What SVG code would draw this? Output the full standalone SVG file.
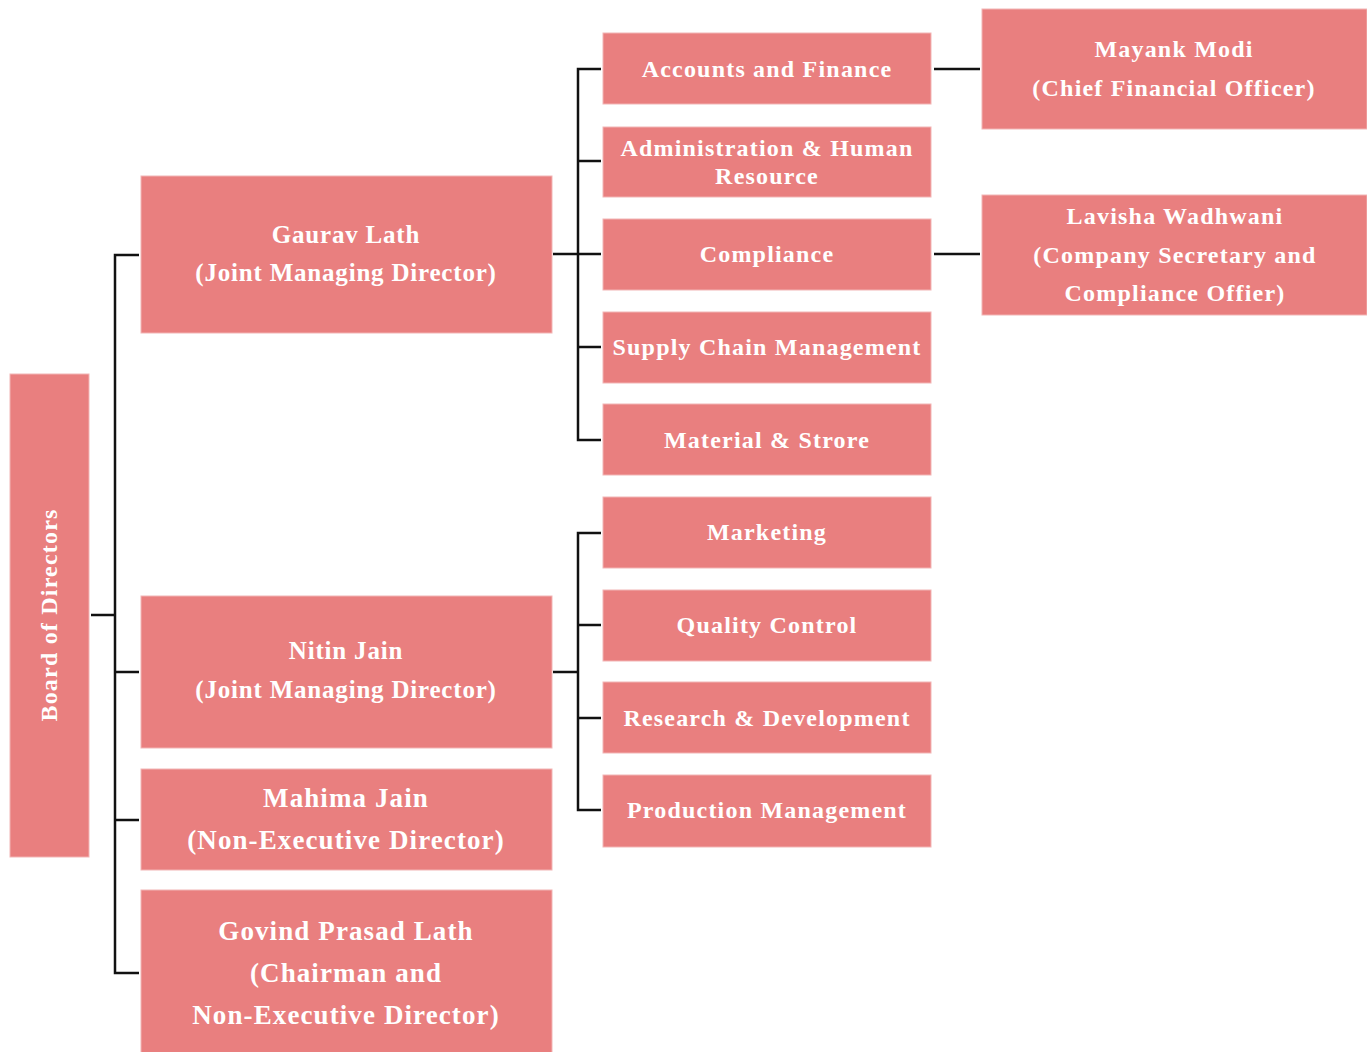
<svg xmlns="http://www.w3.org/2000/svg" width="1367" height="1052" viewBox="0 0 1367 1052">
<style>
.box{fill:#E97F7F;stroke:#F2B5B5;stroke-width:1}
.t{font-family:"Liberation Serif","Times New Roman",serif;font-weight:bold;fill:#FFFFFF;text-anchor:middle}
.l{font-size:25px;letter-spacing:0.8px}
.xl{font-size:27px;letter-spacing:1.1px}
.m{font-size:24px;letter-spacing:1.2px}
.c{stroke:#111;stroke-width:2.5;fill:none}
</style>
<rect width="1367" height="1052" fill="#FFFFFF"/>
<g id="connectors">
<path class="c" d="M91 615H115M139 255H115V973H139M115 672H139M115 820H139"/>
<path class="c" d="M553 254H578M601 69H578V440H601M578 161H601M578 254H601M578 347H601"/>
<path class="c" d="M553 672H578M601 533H578V810H601M578 625H601M578 718H601"/>
<path class="c" d="M934 69H980M934 254H980"/>
</g>
<g id="board"><rect class="box" x="10" y="374" width="79" height="483"/><text class="t m" transform="translate(57,615) rotate(-90)">Board of Directors</text></g>
<g id="gaurav"><rect class="box" x="141" y="176" width="411" height="157"/><text class="t l" x="346" y="243">Gaurav Lath</text><text class="t l" x="346" y="281">(Joint Managing Director)</text></g>
<g id="nitin"><rect class="box" x="141" y="596" width="411" height="152"/><text class="t l" x="346" y="659">Nitin Jain</text><text class="t l" x="346" y="698">(Joint Managing Director)</text></g>
<g id="mahima"><rect class="box" x="141" y="769" width="411" height="101"/><text class="t xl" x="346" y="807">Mahima Jain</text><text class="t xl" x="346" y="849">(Non-Executive Director)</text></g>
<g id="govind"><rect class="box" x="141" y="890" width="411" height="165"/><text class="t xl" x="346" y="940">Govind Prasad Lath</text><text class="t xl" x="346" y="982">(Chairman and</text><text class="t xl" x="346" y="1024">Non-Executive Director)</text></g>
<g id="accounts"><rect class="box" x="603" y="33" width="328" height="71"/><text class="t m" x="767" y="77">Accounts and Finance</text></g>
<g id="admin"><rect class="box" x="603" y="127" width="328" height="70"/><text class="t m" x="767" y="156">Administration  &amp; Human</text><text class="t m" x="767" y="184">Resource</text></g>
<g id="compliance"><rect class="box" x="603" y="219" width="328" height="71"/><text class="t m" x="767" y="262">Compliance</text></g>
<g id="supply"><rect class="box" x="603" y="312" width="328" height="71"/><text class="t m" x="767" y="355">Supply  Chain Management</text></g>
<g id="material"><rect class="box" x="603" y="404" width="328" height="71"/><text class="t m" x="767" y="448">Material &amp; Strore</text></g>
<g id="marketing"><rect class="box" x="603" y="497" width="328" height="71"/><text class="t m" x="767" y="540">Marketing</text></g>
<g id="quality"><rect class="box" x="603" y="590" width="328" height="71"/><text class="t m" x="767" y="633">Quality  Control</text></g>
<g id="rnd"><rect class="box" x="603" y="682" width="328" height="71"/><text class="t m" x="767" y="726">Research &amp; Development</text></g>
<g id="production"><rect class="box" x="603" y="775" width="328" height="72"/><text class="t m" x="767" y="818">Production Management</text></g>
<g id="mayank"><rect class="box" x="982" y="9" width="385" height="120"/><text class="t m" x="1174" y="57">Mayank Modi</text><text class="t m" x="1174" y="96">(Chief Financial Officer)</text></g>
<g id="lavisha"><rect class="box" x="982" y="195" width="385" height="120"/><text class="t m" x="1175" y="224">Lavisha Wadhwani</text><text class="t m" x="1175" y="263">(Company Secretary and</text><text class="t m" x="1175" y="301">Compliance Offier)</text></g>
</svg>
